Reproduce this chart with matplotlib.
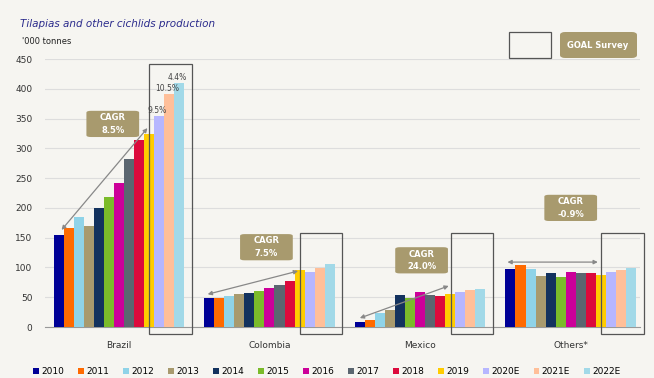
import numpy as np
import matplotlib.pyplot as plt
from matplotlib.patches import Patch, Rectangle, FancyBboxPatch

# data (thousand tonnes)
regions = ['Brazil', 'Colombia', 'Mexico', 'Others*']
years = ['2010', '2011', '2012', '2013', '2014', '2015', '2016', '2017',
         '2018', '2019', '2020E', '2021E', '2022E']
brazil = [155, 167, 184, 169, 200, 219, 241, 282, 314, 324, 354, 391, 409]
colombia = [49, 48, 52, 56, 57, 61, 66, 70, 78, 96, 92, 99, 105]
mexico = [8, 11, 23, 29, 54, 48, 58, 54, 52, 56, 59, 62, 64]
others = [97, 104, 98, 86, 90, 84, 92, 91, 91, 88, 92, 95, 99]
cagr = ['8.5%', '7.5%', '24.0%', '-0.9%']
brazil_growth = ['9.5%', '10.5%', '4.4%']

colors = ['#000096', '#ff6a00', '#8fd3e8', '#a89a6e', '#13325e', '#7bbb2a',
          '#cc0099', '#5b6670', '#dc0a3c', '#ffcc00', '#b6b6ff', '#ffbf99',
          '#a2d9e8']
tan = '#a89a6e'
bg = '#f6f5f1'

values = np.array([brazil, colombia, mexico, others])
n = len(years)
w = 1 / 15
offsets = (np.arange(n) - (n - 1) / 2) * w

fig = plt.figure(figsize=(6.54, 3.78), dpi=100, facecolor=bg)
ax = fig.add_axes([0.0688, 0.1349, 0.9098, 0.709], facecolor=bg)

for j in range(n):
    ax.bar(np.arange(4) + offsets[j], values[:, j], width=w, color=colors[j], zorder=3)

ax.set_xlim(-0.49, 3.46)
ax.set_ylim(0, 450)
ax.set_yticks(range(0, 451, 50))
ax.set_xticks(range(4))
ax.set_xticklabels(regions, fontsize=6.5, color='#333333')
ax.tick_params(axis='x', length=0, pad=10)
ax.tick_params(axis='y', length=0, pad=9, labelsize=6.5, labelcolor='#333333')
ax.grid(axis='y', color='#dddddd', linewidth=0.8, zorder=0)
for s in ['top', 'right', 'left']:
    ax.spines[s].set_visible(False)
ax.spines['bottom'].set_color('#999999')

# boxes around the estimate years
for i in range(4):
    x0 = i + offsets[10] - w / 2 - 0.03
    x1 = i + offsets[12] + w / 2 + 0.05
    top = 441 if i == 0 else 158
    ax.add_patch(Rectangle((x0, -11), x1 - x0, top + 11, fill=False,
                           edgecolor='#555555', linewidth=0.9, clip_on=False, zorder=4))

# growth labels on Brazil estimates
for k, lab in enumerate(brazil_growth):
    j = 10 + k
    ax.text(offsets[j] - 0.01, brazil[j] + 2, lab, fontsize=5.5, ha='center',
            va='bottom', color='#444444', zorder=5)

# CAGR arrows and boxes
arrow_pts = [((-0.38, 163), (0.19, 334)),
             ((0.59, 55), (1.19, 94)),
             ((1.60, 15), (2.19, 69)),
             ((2.58, 109), (3.18, 109))]
box_pos = [(-0.04, 341), (0.98, 134), (2.01, 112), (3.0, 200)]
for i in range(4):
    (xa, ya), (xb, yb) = arrow_pts[i]
    ax.annotate('', xy=(xb, yb), xytext=(xa, ya),
                arrowprops=dict(arrowstyle='<|-|>', color='#888888', lw=0.9,
                                mutation_scale=6, shrinkA=0, shrinkB=0), zorder=5)
    bx, by = box_pos[i]
    bw, bh = 0.35, 44
    ax.add_patch(FancyBboxPatch((bx - bw / 2, by - bh / 2), bw, bh,
                                boxstyle='round,pad=0,rounding_size=0.03',
                                mutation_aspect=100, facecolor=tan,
                                edgecolor='none', zorder=6))
    ax.text(bx, by, 'CAGR\n' + cagr[i], fontsize=6, color='white', weight='bold',
            ha='center', va='center', linespacing=1.5, zorder=7)

# titles
fig.text(20 / 654, 1 - 24 / 378, 'Tilapias and other cichlids production',
         fontsize=7.5, style='italic', color='#2b2b8c', va='center')
fig.text(22 / 654, 1 - 42 / 378, "'000 tonnes", fontsize=6, color='#222222', va='center')

# GOAL Survey key
fig.patches.append(Rectangle((509 / 654, 1 - 58 / 378), 42 / 654, 26 / 378,
                             transform=fig.transFigure, fill=False,
                             edgecolor='#555555', linewidth=0.9))
fig.patches.append(FancyBboxPatch((560 / 654, 1 - 58 / 378), 77 / 654, 26 / 378,
                                  transform=fig.transFigure,
                                  boxstyle='round,pad=0,rounding_size=0.008',
                                  facecolor=tan, edgecolor='none'))
fig.text(598 / 654, 1 - 45 / 378, 'GOAL Survey', fontsize=6, color='white',
         weight='bold', ha='center', va='center')

handles = [Patch(facecolor=c, edgecolor='none') for c in colors]
fig.legend(handles, years, loc='center', bbox_to_anchor=(0.5, 1 - 372 / 378),
           ncol=13, frameon=False, fontsize=6.5, handlelength=0.6,
           handleheight=0.6, handletextpad=0.3, columnspacing=1.55)

fig.savefig('out.png', dpi=100, facecolor=bg)
